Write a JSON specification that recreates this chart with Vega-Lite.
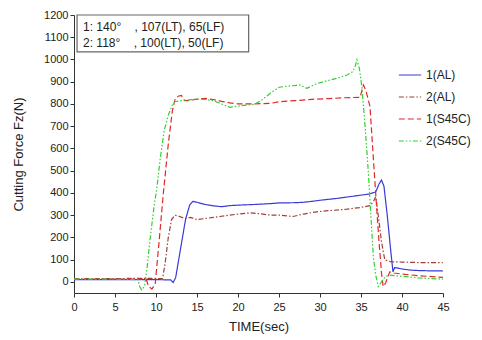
{
  "$schema": "https://vega.github.io/schema/vega-lite/v6.json",
  "autosize": "none",
  "width": 369,
  "height": 278,
  "padding": {"left": 74, "top": 15, "right": 39, "bottom": 47},
  "background": "white",
  "config": {
    "font": "Liberation Sans",
    "view": {"stroke": null},
    "axis": {"grid": false, "domainColor": "#333", "tickColor": "#333", "labelColor": "#222", "titleColor": "#222", "labelFontSize": 11, "titleFontSize": 13, "titleFontWeight": "normal", "tickSize": 4, "labelFlush": false}
  },
  "datasets": {
    "lines": [
      {"s":"1(AL)","t":0,"v":10},{"s":"1(AL)","t":5,"v":10},{"s":"1(AL)","t":10,"v":10},{"s":"1(AL)","t":11.8,"v":9},{"s":"1(AL)","t":12.1,"v":-3},{"s":"1(AL)","t":12.4,"v":20},{"s":"1(AL)","t":13,"v":150},{"s":"1(AL)","t":13.6,"v":280},{"s":"1(AL)","t":14.1,"v":345},{"s":"1(AL)","t":14.5,"v":362},{"s":"1(AL)","t":15,"v":358},{"s":"1(AL)","t":16,"v":348},{"s":"1(AL)","t":17,"v":342},{"s":"1(AL)","t":18,"v":338},{"s":"1(AL)","t":19,"v":343},{"s":"1(AL)","t":20,"v":345},{"s":"1(AL)","t":22,"v":348},{"s":"1(AL)","t":24,"v":352},{"s":"1(AL)","t":25,"v":355},{"s":"1(AL)","t":27,"v":356},{"s":"1(AL)","t":28,"v":358},{"s":"1(AL)","t":29,"v":362},{"s":"1(AL)","t":30,"v":367},{"s":"1(AL)","t":32,"v":375},{"s":"1(AL)","t":34,"v":385},{"s":"1(AL)","t":36,"v":395},{"s":"1(AL)","t":36.8,"v":405},{"s":"1(AL)","t":37.2,"v":440},{"s":"1(AL)","t":37.5,"v":458},{"s":"1(AL)","t":37.8,"v":430},{"s":"1(AL)","t":38.2,"v":300},{"s":"1(AL)","t":38.6,"v":150},{"s":"1(AL)","t":38.9,"v":45},{"s":"1(AL)","t":39.1,"v":64},{"s":"1(AL)","t":39.5,"v":62},{"s":"1(AL)","t":40,"v":58},{"s":"1(AL)","t":41,"v":53},{"s":"1(AL)","t":42,"v":51},{"s":"1(AL)","t":43,"v":50},{"s":"1(AL)","t":45,"v":49},
      {"s":"2(AL)","t":0,"v":14},{"s":"2(AL)","t":5,"v":15},{"s":"2(AL)","t":9,"v":16},{"s":"2(AL)","t":10.8,"v":15},{"s":"2(AL)","t":11.1,"v":80},{"s":"2(AL)","t":11.5,"v":200},{"s":"2(AL)","t":11.9,"v":280},{"s":"2(AL)","t":12.3,"v":300},{"s":"2(AL)","t":12.8,"v":295},{"s":"2(AL)","t":13.5,"v":285},{"s":"2(AL)","t":14.2,"v":290},{"s":"2(AL)","t":15,"v":280},{"s":"2(AL)","t":16,"v":285},{"s":"2(AL)","t":17,"v":290},{"s":"2(AL)","t":18,"v":295},{"s":"2(AL)","t":19,"v":300},{"s":"2(AL)","t":20,"v":305},{"s":"2(AL)","t":21.5,"v":310},{"s":"2(AL)","t":22.5,"v":307},{"s":"2(AL)","t":24,"v":300},{"s":"2(AL)","t":25,"v":300},{"s":"2(AL)","t":26.7,"v":294},{"s":"2(AL)","t":28,"v":305},{"s":"2(AL)","t":29.6,"v":315},{"s":"2(AL)","t":31,"v":320},{"s":"2(AL)","t":33.3,"v":327},{"s":"2(AL)","t":35,"v":335},{"s":"2(AL)","t":36.1,"v":343},{"s":"2(AL)","t":36.5,"v":360},{"s":"2(AL)","t":36.8,"v":383},{"s":"2(AL)","t":37.1,"v":300},{"s":"2(AL)","t":37.5,"v":180},{"s":"2(AL)","t":37.9,"v":99},{"s":"2(AL)","t":38.6,"v":91},{"s":"2(AL)","t":40,"v":89},{"s":"2(AL)","t":42,"v":87},{"s":"2(AL)","t":45,"v":86},
      {"s":"1(S45C)","t":0,"v":13},{"s":"1(S45C)","t":5,"v":13},{"s":"1(S45C)","t":8.8,"v":12},{"s":"1(S45C)","t":9.1,"v":-20},{"s":"1(S45C)","t":9.5,"v":-32},{"s":"1(S45C)","t":9.9,"v":-10},{"s":"1(S45C)","t":10.3,"v":150},{"s":"1(S45C)","t":10.9,"v":400},{"s":"1(S45C)","t":11.5,"v":620},{"s":"1(S45C)","t":12,"v":770},{"s":"1(S45C)","t":12.3,"v":818},{"s":"1(S45C)","t":12.7,"v":835},{"s":"1(S45C)","t":13.1,"v":838},{"s":"1(S45C)","t":13.5,"v":815},{"s":"1(S45C)","t":14,"v":815},{"s":"1(S45C)","t":15,"v":822},{"s":"1(S45C)","t":16,"v":825},{"s":"1(S45C)","t":17,"v":820},{"s":"1(S45C)","t":18,"v":812},{"s":"1(S45C)","t":19,"v":805},{"s":"1(S45C)","t":20,"v":800},{"s":"1(S45C)","t":22,"v":800},{"s":"1(S45C)","t":24,"v":803},{"s":"1(S45C)","t":25,"v":810},{"s":"1(S45C)","t":27,"v":815},{"s":"1(S45C)","t":29,"v":821},{"s":"1(S45C)","t":31,"v":824},{"s":"1(S45C)","t":33,"v":828},{"s":"1(S45C)","t":34.9,"v":830},{"s":"1(S45C)","t":35.1,"v":860},{"s":"1(S45C)","t":35.3,"v":885},{"s":"1(S45C)","t":35.6,"v":860},{"s":"1(S45C)","t":36.1,"v":788},{"s":"1(S45C)","t":36.5,"v":560},{"s":"1(S45C)","t":36.9,"v":338},{"s":"1(S45C)","t":37.2,"v":180},{"s":"1(S45C)","t":37.5,"v":40},{"s":"1(S45C)","t":37.7,"v":-21},{"s":"1(S45C)","t":38,"v":-5},{"s":"1(S45C)","t":38.5,"v":45},{"s":"1(S45C)","t":39,"v":40},{"s":"1(S45C)","t":40,"v":35},{"s":"1(S45C)","t":42,"v":28},{"s":"1(S45C)","t":45,"v":20},
      {"s":"2(S45C)","t":0,"v":12},{"s":"2(S45C)","t":5,"v":12},{"s":"2(S45C)","t":7.8,"v":10},{"s":"2(S45C)","t":8.0,"v":-20},{"s":"2(S45C)","t":8.25,"v":-36},{"s":"2(S45C)","t":8.6,"v":-20},{"s":"2(S45C)","t":8.9,"v":60},{"s":"2(S45C)","t":9.3,"v":200},{"s":"2(S45C)","t":9.8,"v":350},{"s":"2(S45C)","t":10.1,"v":420},{"s":"2(S45C)","t":10.5,"v":550},{"s":"2(S45C)","t":11,"v":680},{"s":"2(S45C)","t":11.5,"v":750},{"s":"2(S45C)","t":12,"v":795},{"s":"2(S45C)","t":12.3,"v":810},{"s":"2(S45C)","t":13,"v":815},{"s":"2(S45C)","t":14,"v":818},{"s":"2(S45C)","t":15,"v":822},{"s":"2(S45C)","t":16,"v":820},{"s":"2(S45C)","t":17,"v":815},{"s":"2(S45C)","t":18,"v":800},{"s":"2(S45C)","t":19,"v":785},{"s":"2(S45C)","t":20,"v":790},{"s":"2(S45C)","t":21,"v":795},{"s":"2(S45C)","t":22,"v":798},{"s":"2(S45C)","t":23,"v":820},{"s":"2(S45C)","t":24,"v":850},{"s":"2(S45C)","t":25,"v":875},{"s":"2(S45C)","t":26,"v":880},{"s":"2(S45C)","t":27.6,"v":885},{"s":"2(S45C)","t":28.4,"v":870},{"s":"2(S45C)","t":29.5,"v":890},{"s":"2(S45C)","t":30.4,"v":900},{"s":"2(S45C)","t":32,"v":915},{"s":"2(S45C)","t":33.3,"v":930},{"s":"2(S45C)","t":34,"v":945},{"s":"2(S45C)","t":34.3,"v":970},{"s":"2(S45C)","t":34.5,"v":998},{"s":"2(S45C)","t":34.8,"v":960},{"s":"2(S45C)","t":35.1,"v":878},{"s":"2(S45C)","t":35.5,"v":700},{"s":"2(S45C)","t":35.9,"v":490},{"s":"2(S45C)","t":36.2,"v":300},{"s":"2(S45C)","t":36.5,"v":114},{"s":"2(S45C)","t":36.8,"v":30},{"s":"2(S45C)","t":37.1,"v":-21},{"s":"2(S45C)","t":37.5,"v":0},{"s":"2(S45C)","t":38,"v":25},{"s":"2(S45C)","t":38.5,"v":30},{"s":"2(S45C)","t":40,"v":25},{"s":"2(S45C)","t":42,"v":18},{"s":"2(S45C)","t":45,"v":12}
    ],
    "box": [{"t": 0.37, "t2": 21.3, "v": 1200, "v2": 1034}],
    "notes": [
      {"t": 1.1, "v": 1146, "label": "1: 140°\u00a0\u00a0\u00a0\u00a0, 107(LT), 65(LF)"},
      {"t": 1.1, "v": 1074, "label": "2: 118°\u00a0\u00a0\u00a0\u00a0, 100(LT), 50(LF)"}
    ]
  },
  "encoding": {
    "x": {"field": "t", "type": "quantitative", "scale": {"domain": [0, 45], "nice": false}, "axis": {"values": [0,5,10,15,20,25,30,35,40,45], "title": "TIME(sec)", "labelPadding": 4, "titlePadding": 8, "labelOverlap": false}},
    "y": {"field": "v", "type": "quantitative", "scale": {"domain": [-50, 1200], "nice": false, "zero": false}, "axis": {"values": [0,100,200,300,400,500,600,700,800,900,1000,1100,1200], "format": "d", "labelOverlap": false, "title": "Cutting Force Fz(N)", "labelPadding": 2, "titlePadding": 18}}
  },
  "layer": [
    {
      "data": {"name": "lines"},
      "mark": {"type": "line", "strokeWidth": 1.2, "clip": true},
      "encoding": {
        "color": {"field": "s", "type": "nominal", "scale": {"domain": ["1(AL)","2(AL)","1(S45C)","2(S45C)"], "range": ["#3a3ad8","#a0403a","#e02828","#30d030"]},
          "legend": {"title": null, "orient": "none", "legendX": 324, "legendY": 48, "symbolType": "stroke", "symbolSize": 500, "symbolStrokeWidth": 1.2, "labelFontSize": 12, "labelColor": "#222", "rowPadding": 4, "labelOffset": 4}},
        "strokeDash": {"field": "s", "type": "nominal", "scale": {"domain": ["1(AL)","2(AL)","1(S45C)","2(S45C)"], "range": [[1,0],[5,2,1.5,2],[6,3],[5,2,1.5,2,1.5,2]]}, "legend": {"title": null, "orient": "none", "legendX": 324, "legendY": 48, "symbolType": "stroke", "symbolSize": 500, "symbolStrokeWidth": 1.2, "labelFontSize": 12, "labelColor": "#222", "rowPadding": 4, "labelOffset": 4}}
      }
    },
    {
      "data": {"name": "box"},
      "mark": {"type": "rect", "fill": "white", "stroke": "#666", "strokeWidth": 1.2},
      "encoding": {
        "x2": {"field": "t2"},
        "y2": {"field": "v2"}
      }
    },
    {
      "data": {"name": "notes"},
      "mark": {"type": "text", "align": "left", "baseline": "middle", "fontSize": 12, "color": "#222"},
      "encoding": {
        "text": {"field": "label"}
      }
    }
  ]
}
